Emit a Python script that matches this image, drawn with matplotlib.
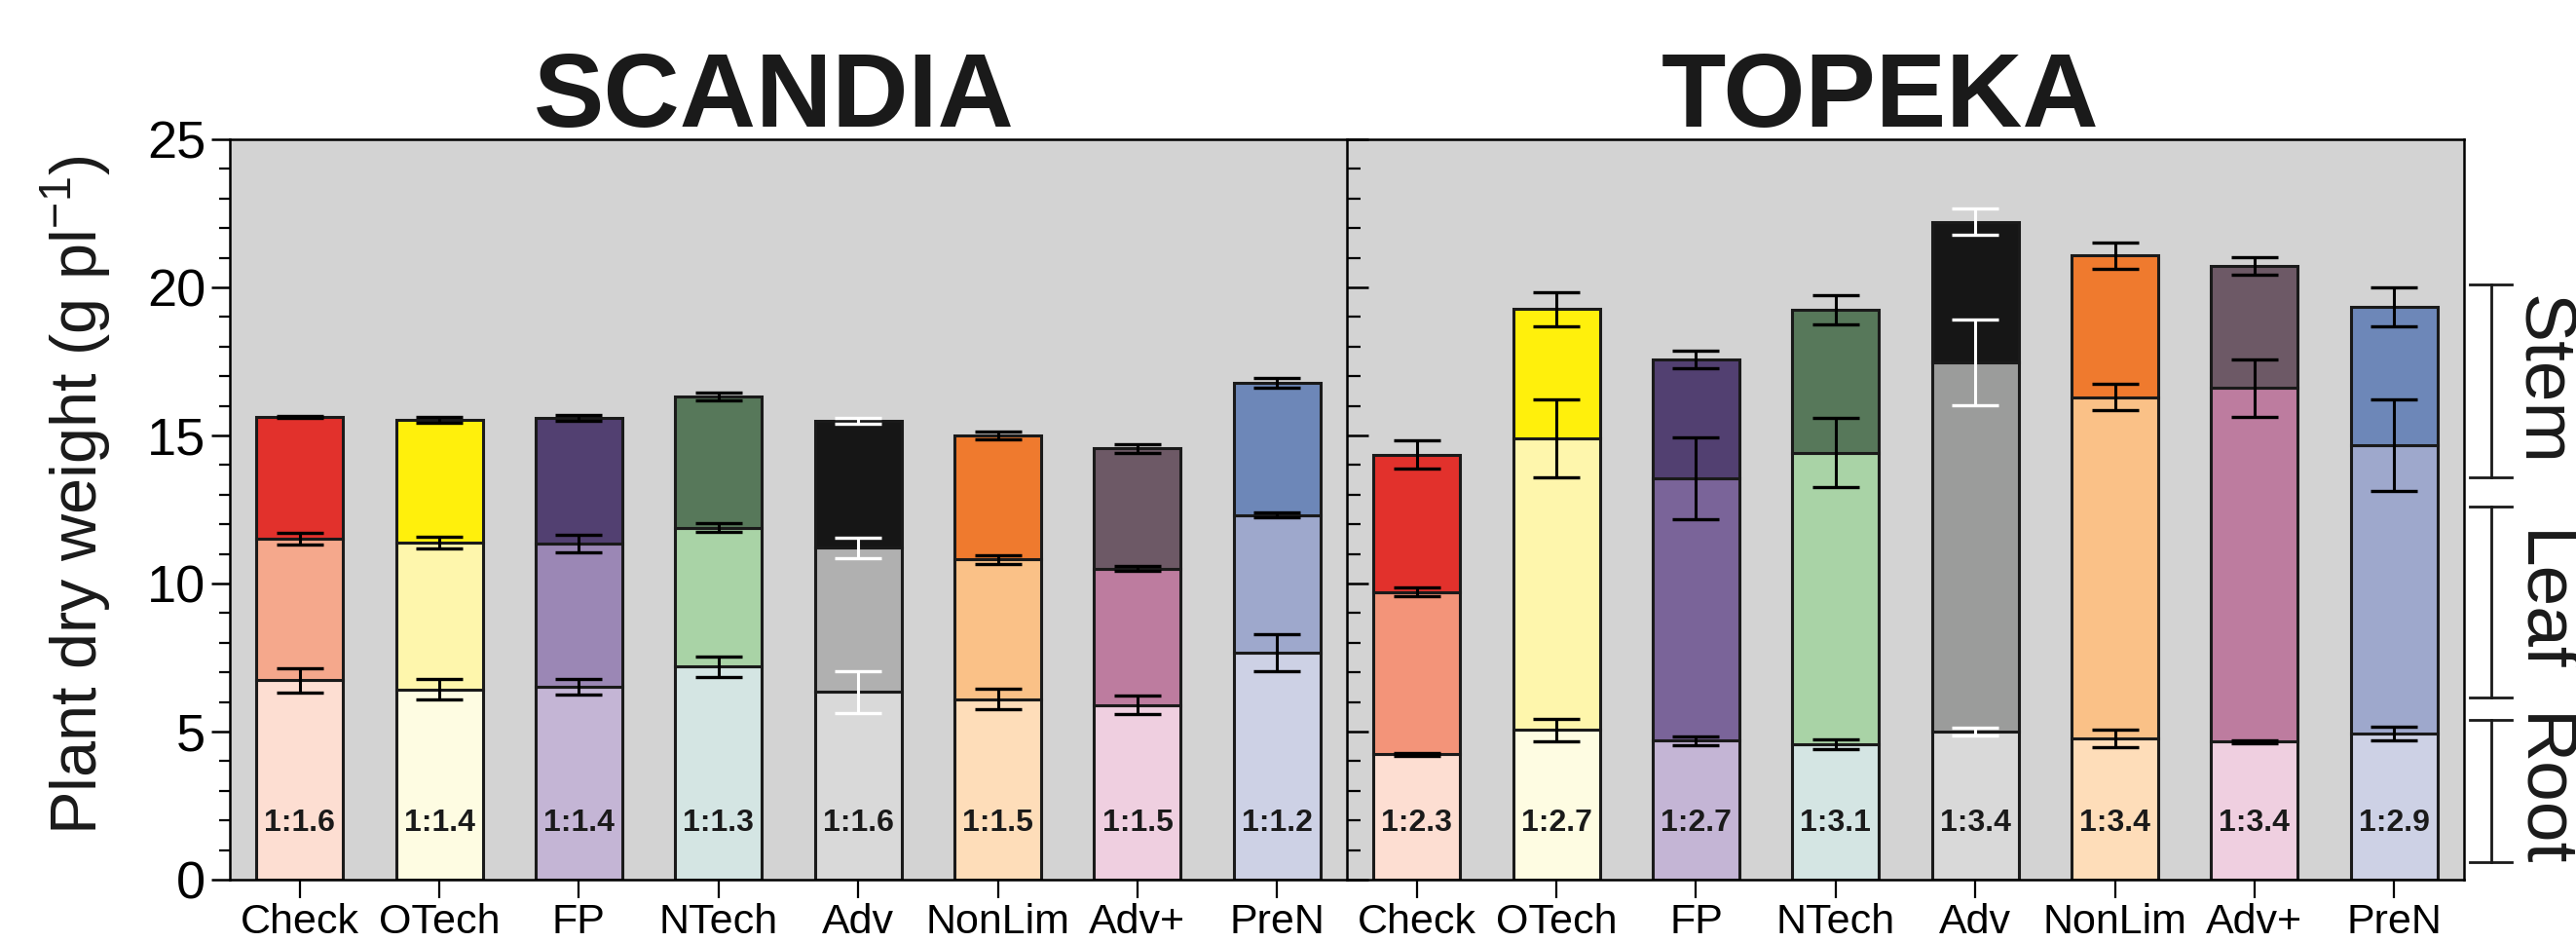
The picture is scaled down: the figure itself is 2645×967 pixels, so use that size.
import matplotlib
matplotlib.use("Agg")
import matplotlib.pyplot as plt
import matplotlib.transforms as mtransforms
from matplotlib.ticker import MultipleLocator

plt.rcParams['font.family'] = ['Liberation Sans', 'DejaVu Sans']

treatments = ["Check", "OTech", "FP", "NTech", "Adv", "NonLim", "Adv+", "PreN"]

# dry weight per organ (g per plant), stacked root -> leaf -> stem
scandia_root = [6.73, 6.43, 6.52, 7.19, 6.34, 6.10, 5.90, 7.66]
scandia_leaf = [4.77, 4.95, 4.82, 4.70, 4.87, 4.71, 4.60, 4.65]
scandia_stem = [4.12, 4.14, 4.25, 4.42, 4.29, 4.19, 4.06, 4.46]
scandia_root_se = [0.40, 0.34, 0.27, 0.35, 0.70, 0.35, 0.32, 0.62]
scandia_leaf_se = [0.20, 0.19, 0.29, 0.15, 0.35, 0.16, 0.08, 0.08]
scandia_stem_se = [0.04, 0.10, 0.10, 0.13, 0.10, 0.14, 0.15, 0.17]
scandia_ratio = ["1:1.6", "1:1.4", "1:1.4", "1:1.3", "1:1.6", "1:1.5", "1:1.5", "1:1.2"]

topeka_root = [4.24, 5.05, 4.69, 4.58, 5.00, 4.78, 4.66, 4.92]
topeka_leaf = [5.48, 9.85, 8.85, 9.84, 12.46, 11.51, 11.94, 9.74]
topeka_stem = [4.63, 4.37, 4.03, 4.83, 4.75, 4.78, 4.12, 4.67]
topeka_root_se = [0.05, 0.37, 0.16, 0.16, 0.12, 0.29, 0.05, 0.23]
topeka_leaf_se = [0.15, 1.31, 1.38, 1.17, 1.44, 0.44, 0.96, 1.55]
topeka_stem_se = [0.47, 0.58, 0.30, 0.49, 0.44, 0.44, 0.29, 0.66]
topeka_ratio = ["1:2.3", "1:2.7", "1:2.7", "1:3.1", "1:3.4", "1:3.4", "1:3.4", "1:2.9"]

root_colors = ["#FDDED2", "#FEFCE2", "#C4B5D5", "#D4E5E3", "#D9D9D9", "#FEDDB9", "#EFCFE0", "#CDD1E5"]
scandia_leaf_colors = ["#F5A88C", "#FEF6AC", "#9B87B5", "#A9D3A6", "#B0B0B0", "#FAC187", "#BD7C9F", "#9EA8CC"]
topeka_leaf_colors = ["#F39479", "#FEF6AC", "#7A6499", "#A9D3A6", "#9B9C9B", "#FAC187", "#BD7C9F", "#9EA8CC"]
stem_colors = ["#E2312C", "#FFF00C", "#524071", "#57785A", "#161616", "#EF7A2E", "#6D5966", "#6D87B8"]
err_colors = ["black", "black", "black", "black", "white", "black", "black", "black"]

organs = ["Stem", "Leaf", "Root"]
bracket_lo = [13.6, 6.15, 0.6]
bracket_hi = [20.1, 12.6, 5.4]

W, H = 2645, 967
fig = plt.figure(figsize=(W / 100, H / 100), dpi=100)
ax1 = fig.add_axes([236 / W, 64 / H, 1147 / W, 760 / H])
ax2 = fig.add_axes([1383 / W, 64 / H, 1147 / W, 760 / H])


def draw_site(ax, root, leaf, stem, root_se, leaf_se, stem_se, ratio, leaf_colors, title, title_x):
    x = list(range(len(treatments)))
    leaf_top = [r + l for r, l in zip(root, leaf)]
    total = [t + s for t, s in zip(leaf_top, stem)]
    ax.set_facecolor("#D3D3D3")
    kw = dict(width=0.62, edgecolor="#1a1a1a", linewidth=2.2, zorder=2)
    ax.bar(x, root, color=root_colors, **kw)
    ax.bar(x, leaf, bottom=root, color=leaf_colors, **kw)
    ax.bar(x, stem, bottom=leaf_top, color=stem_colors, **kw)
    for i in x:
        ax.errorbar([i, i, i], [root[i], leaf_top[i], total[i]],
                    yerr=[root_se[i], leaf_se[i], stem_se[i]], fmt="none",
                    ecolor=err_colors[i], elinewidth=2.2, capsize=17, capthick=2.4, zorder=3)
        ax.text(i, 1.9, ratio[i], ha="center", va="center", fontsize=23,
                fontweight="bold", color="#1a1a1a", zorder=4)
    ax.set_xlim(-0.5, len(treatments) - 0.5)
    ax.set_ylim(0, 25)
    ax.set_xticks(x)
    ax.set_xticklabels(treatments)
    ax.tick_params(axis="x", direction="out", length=14, width=1.6, labelsize=31, pad=3)
    ax.yaxis.set_major_locator(MultipleLocator(5))
    ax.yaxis.set_minor_locator(MultipleLocator(1))
    for sp in ax.spines.values():
        sp.set_linewidth(1.8)
    ax.text(title_x, 1.017, title, transform=ax.transAxes, ha="center", va="baseline",
            fontsize=78, fontweight="bold", color="#1a1a1a")


draw_site(ax1, scandia_root, scandia_leaf, scandia_stem, scandia_root_se, scandia_leaf_se,
          scandia_stem_se, scandia_ratio, scandia_leaf_colors, "SCANDIA", 0.487)
draw_site(ax2, topeka_root, topeka_leaf, topeka_stem, topeka_root_se, topeka_leaf_se,
          topeka_stem_se, topeka_ratio, topeka_leaf_colors, "TOPEKA", 0.477)

ax1.spines["right"].set_visible(False)
ax1.tick_params(axis="y", which="major", direction="out", length=14, width=1.8, labelsize=39, pad=4)
ax1.tick_params(axis="y", which="minor", direction="out", length=8, width=1.6)

ax2.tick_params(axis="y", which="major", direction="in", length=16, width=1.8, labelleft=False)
ax2.tick_params(axis="y", which="minor", direction="in", length=10, width=1.6)

# organ brackets on the right
trans = mtransforms.blended_transform_factory(ax2.transAxes, ax2.transData)
for name, lo, hi in zip(organs, bracket_lo, bracket_hi):
    ax2.plot([1.0245, 1.0245], [lo, hi], color="#1a1a1a", lw=2, transform=trans, clip_on=False)
    for yv in (lo, hi):
        ax2.plot([1.005, 1.043], [yv, yv], color="#1a1a1a", lw=2, transform=trans, clip_on=False)
    ax2.text(1.069, (lo + hi) / 2, name, rotation=270, transform=trans, ha="center",
             va="center", fontsize=54, color="#1a1a1a")

fig.text(78 / W, 0.475, r"Plant dry weight (g pl$^{\mathregular{-1}}$)", rotation=90,
         ha="center", va="center", fontsize=48, color="#1a1a1a")

fig.savefig("out.png", dpi=100, facecolor="white")
